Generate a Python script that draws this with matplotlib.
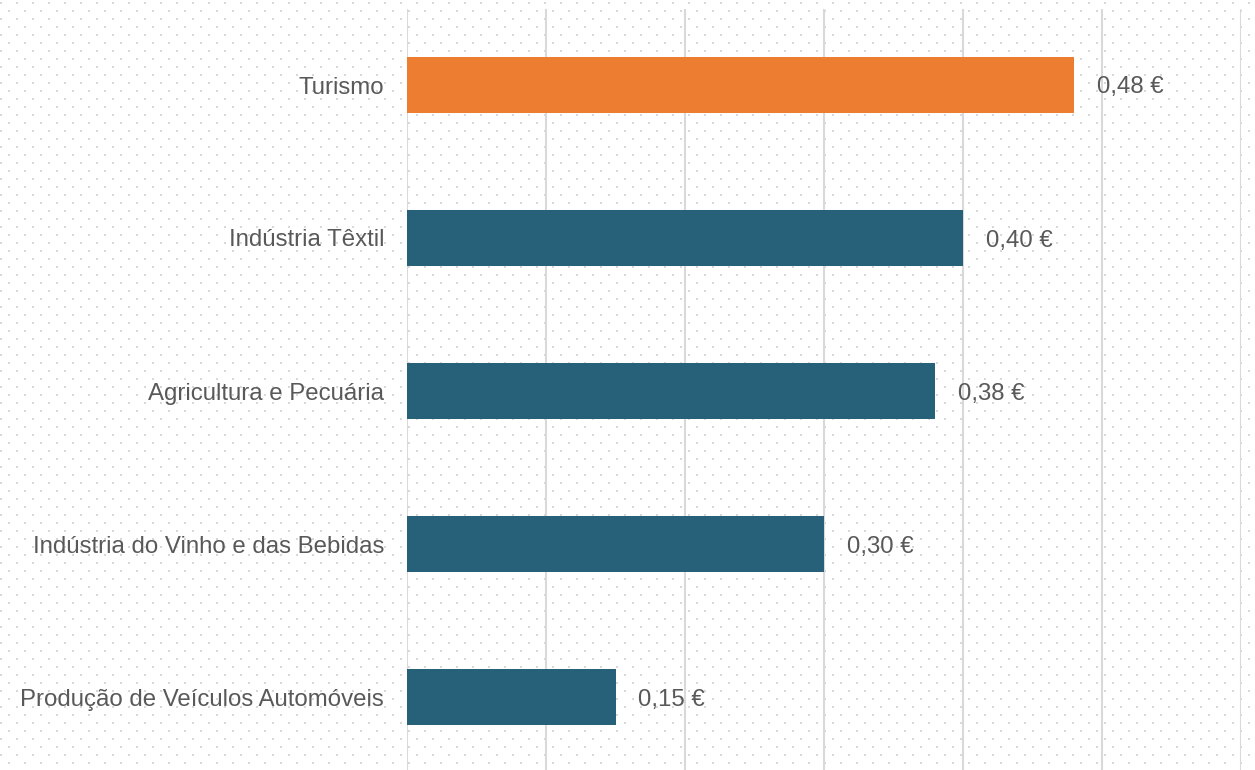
import numpy as np
import matplotlib
matplotlib.use("Agg")
import matplotlib.pyplot as plt

categories = ["Turismo", "Indústria Têxtil", "Agricultura e Pecuária",
              "Indústria do Vinho e das Bebidas", "Produção de Veículos Automóveis"]
values = [0.48, 0.40, 0.38, 0.30, 0.15]
value_labels = ["0,48 €", "0,40 €", "0,38 €", "0,30 €", "0,15 €"]
colors = ["#ED7D31", "#276079", "#276079", "#276079", "#276079"]

W, H = 1255, 770
fig = plt.figure(figsize=(W / 100, H / 100), dpi=100)
fig.patch.set_facecolor("white")

# dotted background pattern
img = np.ones((H, W, 3))
dot = np.array([0.85, 0.85, 0.85])
for r, yy in enumerate(range(2, H, 8)):
    x0 = 0 if r % 2 == 0 else 8
    for x in range(x0, W, 16):
        img[yy:yy + 2, x:x + 2] = dot
bg = fig.add_axes([0, 0, 1, 1], zorder=-5)
bg.imshow(img, interpolation="nearest", aspect="auto", extent=(0, W, H, 0))
bg.set_axis_off()

left, right = 407, 1241
top, bottom = 8.5, 773.5
ax = fig.add_axes([left / W, 1 - bottom / H, (right - left) / W, (bottom - top) / H], zorder=1)
ax.patch.set_alpha(0)

FS = 17.3
y = np.arange(len(categories))
ax.barh(y, values, height=0.36, color=colors, zorder=3)
ax.set_xlim(0, 0.6)
ax.set_ylim(len(categories) - 0.5, -0.5)
ax.set_xticks(np.arange(0, 0.61, 0.1))
ax.xaxis.grid(True, color="#d9d9d9", linewidth=1.5, zorder=1)
ax.set_axisbelow(True)
ax.tick_params(axis="x", length=0, labelbottom=False)
ax.tick_params(axis="y", length=0, pad=16.5)
ax.set_yticks(y)
ax.set_yticklabels(categories, fontsize=FS, color="#595959", family="Liberation Sans")
for s in ax.spines.values():
    s.set_visible(False)

for yi, v, lab in zip(y, values, value_labels):
    ax.annotate(lab, (v, yi), xytext=(23, 0), textcoords="offset pixels",
                va="center_baseline", ha="left", fontsize=FS, color="#595959",
                family="Liberation Sans")

fig.savefig("out.png", dpi=100)
